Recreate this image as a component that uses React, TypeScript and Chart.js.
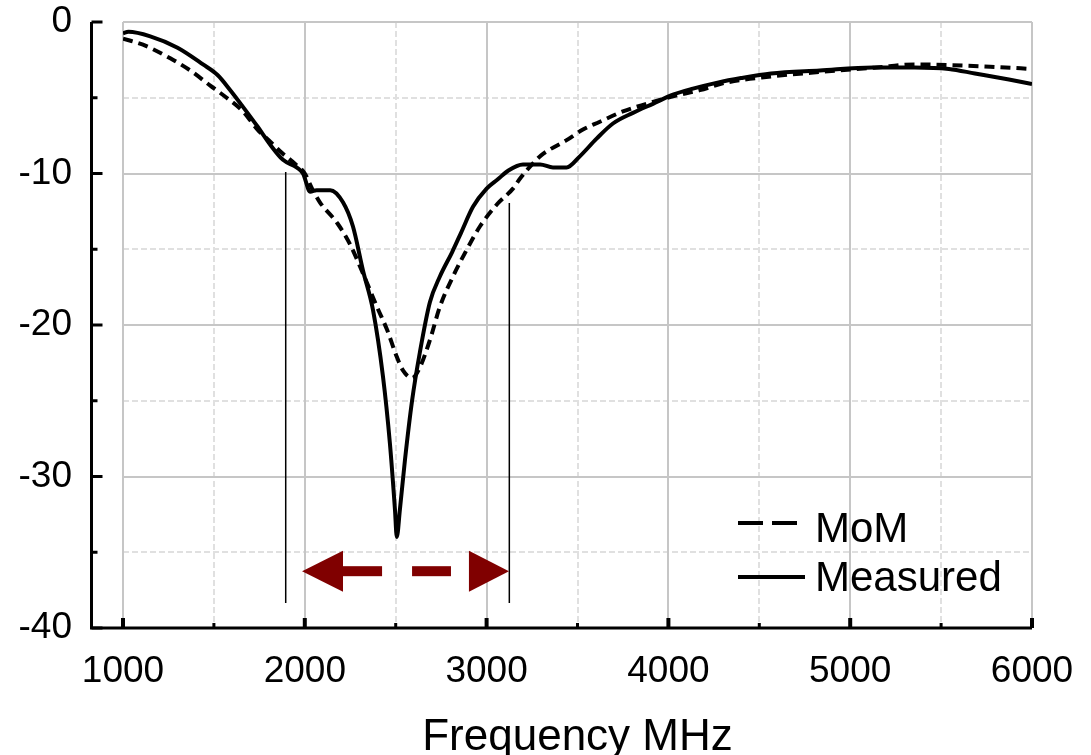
import { useEffect, useRef } from "react";
import { Chart, registerables } from "chart.js";

Chart.register(...registerables);

// ---- data ----
const FREQ_MEASURED = [
  1000, 1030, 1150, 1300, 1440, 1520, 1590, 1660, 1740, 1810, 1880, 1955, 1990, 2030, 2065, 2140, 2210, 2265,
  2320, 2375, 2430, 2468, 2496, 2506, 2523, 2551, 2590, 2633, 2688, 2743, 2810, 2860, 2925, 3000, 3060, 3120,
  3200, 3295, 3365, 3440, 3510, 3605, 3695, 3805, 3915, 4025, 4135, 4270, 4400, 4564, 4833, 5125, 5355, 5543,
  5686, 5873, 6000,
];
const S11_MEASURED = [
  -0.75, -0.65, -0.95, -1.7, -2.8, -3.5, -4.5, -5.6, -6.9, -8.1, -9.1, -9.6, -10.0, -11.2, -11.1, -11.1, -11.9, -13.5,
  -16.4, -19.0, -23.4, -27.8, -32.2, -34.0, -32.2, -28.9, -25.0, -21.8, -18.5, -16.8, -15.2, -13.9, -12.2, -11.0, -10.4, -9.8,
  -9.4, -9.4, -9.6, -9.6, -8.9, -7.7, -6.7, -6.0, -5.4, -4.8, -4.4, -4.0, -3.7, -3.4, -3.2, -3.0, -3.0, -3.1,
  -3.4, -3.8, -4.1,
];
const FREQ_MOM = [
  1000, 1110, 1260, 1370, 1480, 1570, 1660, 1740, 1810, 1880, 1950, 2000, 2040, 2083, 2180, 2250, 2320, 2397,
  2452, 2506, 2540, 2590, 2633, 2688, 2743, 2815, 2892, 2963, 3060, 3145, 3180, 3250, 3300, 3440, 3530, 3620,
  3750, 3880, 4025, 4173, 4317, 4564, 4833, 5145, 5355, 5560, 5770, 6000,
];
const S11_MOM = [
  -1.1, -1.5, -2.4, -3.2, -4.2, -5.0, -5.9, -7.1, -7.9, -8.7, -9.4, -10.0, -11.0, -11.9, -13.3, -14.7, -16.6, -18.8,
  -20.3, -22.1, -23.0, -23.5, -22.8, -21.0, -18.8, -16.8, -15.0, -13.5, -12.0, -11.0, -10.4, -9.4, -8.8, -7.8, -7.1, -6.6,
  -5.9, -5.4, -4.9, -4.5, -4.0, -3.6, -3.3, -3.0, -2.8, -2.85, -2.95, -3.1,
];
const X_MAJOR_TICKS = [1000, 2000, 3000, 4000, 5000, 6000];
const X_MINOR_TICKS = [1500, 2500, 3500, 4500, 5500];
const Y_MAJOR_TICKS = [0, -10, -20, -30, -40];
const Y_MINOR_TICKS = [-5, -15, -25, -35];
const SERIES_LABELS = ["MoM", "Measured"];
const X_TITLE = "Frequency MHz";

// bandwidth markers (MHz, dB)
const BAND_FREQS = [1895, 3125];
const BAND_TOPS = [-9.9, -11.95];
const BAND_BOTTOM = -38.35;
// bandwidth arrow (MHz / dB)
const ARROW_Y = -36.25;
const ARROW_LEFT_TIP = 1985;
const ARROW_LEFT_BASE = 2210;
const ARROW_SHAFT_END = 2425;
const ARROW_DASH = [2590, 2804];
const ARROW_RIGHT_BASE = 2903;
const ARROW_RIGHT_TIP = 3123;
const ARROW_HEAD_HALF = 1.35;
const ARROW_SHAFT_HALF = 0.33;

const FONT = "'Liberation Sans', Arial, Helvetica, sans-serif";
const ARROW_COLOR = "#800000";

const decorPlugin = {
  id: "decor",
  beforeDatasetsDraw(chart: any) {
    const { ctx, chartArea: a, scales } = chart;
    const x = scales.x;
    const y = scales.y;
    ctx.save();
    // dashed minor grid
    ctx.lineWidth = 2;
    ctx.strokeStyle = "#e0e0e0";
    ctx.setLineDash([6, 3]);
    for (const v of X_MINOR_TICKS) {
      const px = Math.round(x.getPixelForValue(v));
      ctx.beginPath();
      ctx.moveTo(px, a.top);
      ctx.lineTo(px, a.bottom);
      ctx.stroke();
    }
    for (const v of Y_MINOR_TICKS) {
      const py = Math.round(y.getPixelForValue(v));
      ctx.beginPath();
      ctx.moveTo(a.left, py);
      ctx.lineTo(a.right, py);
      ctx.stroke();
    }
    // solid major grid
    ctx.setLineDash([]);
    ctx.strokeStyle = "#c6c6c6";
    for (const v of X_MAJOR_TICKS) {
      const px = Math.round(x.getPixelForValue(v));
      ctx.beginPath();
      ctx.moveTo(px, a.top);
      ctx.lineTo(px, a.bottom);
      ctx.stroke();
    }
    for (const v of Y_MAJOR_TICKS) {
      const py = Math.round(y.getPixelForValue(v));
      ctx.beginPath();
      ctx.moveTo(a.left, py);
      ctx.lineTo(a.right, py);
      ctx.stroke();
    }
    ctx.restore();
  },
  afterDatasetsDraw(chart: any) {
    const { ctx, chartArea: a, scales } = chart;
    const x = scales.x;
    const y = scales.y;
    const axisX = a.left - 31.5;
    const axisY = y.getPixelForValue(-40);
    ctx.save();
    // axis lines
    ctx.strokeStyle = "#000";
    ctx.lineWidth = 3;
    ctx.beginPath();
    ctx.moveTo(axisX, a.top);
    ctx.lineTo(axisX, axisY);
    ctx.lineTo(a.right, axisY);
    ctx.stroke();
    // y ticks (inward)
    for (const v of Y_MAJOR_TICKS) {
      const py = y.getPixelForValue(v);
      ctx.beginPath();
      ctx.moveTo(axisX, py);
      ctx.lineTo(axisX + 11, py);
      ctx.stroke();
    }
    for (const v of Y_MINOR_TICKS) {
      const py = y.getPixelForValue(v);
      ctx.beginPath();
      ctx.moveTo(axisX, py);
      ctx.lineTo(axisX + 6, py);
      ctx.stroke();
    }
    // x ticks (inward)
    ctx.lineWidth = 4;
    for (const v of X_MAJOR_TICKS) {
      const px = x.getPixelForValue(v);
      ctx.beginPath();
      ctx.moveTo(px, axisY);
      ctx.lineTo(px, axisY - 10);
      ctx.stroke();
    }
    ctx.lineWidth = 3;
    for (const v of X_MINOR_TICKS) {
      const px = x.getPixelForValue(v);
      ctx.beginPath();
      ctx.moveTo(px, axisY);
      ctx.lineTo(px, axisY - 5);
      ctx.stroke();
    }
    // bandwidth arrow
    const X = (v: number) => x.getPixelForValue(v);
    const Y = (v: number) => y.getPixelForValue(v);
    ctx.fillStyle = ARROW_COLOR;
    ctx.beginPath();
    ctx.moveTo(X(ARROW_LEFT_TIP), Y(ARROW_Y));
    ctx.lineTo(X(ARROW_LEFT_BASE), Y(ARROW_Y + ARROW_HEAD_HALF));
    ctx.lineTo(X(ARROW_LEFT_BASE), Y(ARROW_Y - ARROW_HEAD_HALF));
    ctx.closePath();
    ctx.fill();
    ctx.beginPath();
    ctx.moveTo(X(ARROW_RIGHT_TIP), Y(ARROW_Y));
    ctx.lineTo(X(ARROW_RIGHT_BASE), Y(ARROW_Y + ARROW_HEAD_HALF));
    ctx.lineTo(X(ARROW_RIGHT_BASE), Y(ARROW_Y - ARROW_HEAD_HALF));
    ctx.closePath();
    ctx.fill();
    const rect = (x0: number, x1: number) => {
      const top = Y(ARROW_Y + ARROW_SHAFT_HALF);
      const bot = Y(ARROW_Y - ARROW_SHAFT_HALF);
      ctx.fillRect(X(x0), top, X(x1) - X(x0), bot - top);
    };
    rect(ARROW_LEFT_BASE - 5, ARROW_SHAFT_END);
    rect(ARROW_DASH[0], ARROW_DASH[1]);

    // legend
    ctx.fillStyle = "#000";
    ctx.strokeStyle = "#000";
    ctx.font = `42px ${FONT}`;
    ctx.textAlign = "left";
    ctx.textBaseline = "alphabetic";
    const ds = chart.data.datasets;
    ctx.lineWidth = 4;
    ctx.beginPath();
    ctx.moveTo(738, 523);
    ctx.lineTo(763, 523);
    ctx.moveTo(772, 523);
    ctx.lineTo(797, 523);
    ctx.stroke();
    ctx.fillText(ds[0].label, 815, 542);
    ctx.beginPath();
    ctx.moveTo(738, 577);
    ctx.lineTo(805, 577);
    ctx.stroke();
    ctx.fillText(ds[1].label, 815, 591);
    ctx.restore();
  },
};

export default function App() {
  const ref = useRef<HTMLCanvasElement | null>(null);
  useEffect(() => {
    if (!ref.current) return;
    const mom = FREQ_MOM.map((f, i) => ({ x: f, y: S11_MOM[i] }));
    const meas = FREQ_MEASURED.map((f, i) => ({ x: f, y: S11_MEASURED[i] }));
    const bandSets = BAND_FREQS.map((f, i) => ({
      label: "band" + i,
      data: [
        { x: f, y: BAND_TOPS[i] },
        { x: f, y: BAND_BOTTOM },
      ],
      borderColor: "#000",
      borderWidth: 1.5,
      pointRadius: 0,
      fill: false,
    }));
    const chart = new Chart(ref.current, {
      type: "line",
      data: {
        datasets: [
          {
            label: SERIES_LABELS[0],
            data: mom,
            borderColor: "#000",
            borderWidth: 4,
            borderDash: [10, 6],
            pointRadius: 0,
            cubicInterpolationMode: "monotone",
            fill: false,
          },
          {
            label: SERIES_LABELS[1],
            data: meas,
            borderColor: "#000",
            borderWidth: 4,
            pointRadius: 0,
            cubicInterpolationMode: "monotone",
            fill: false,
          },
          ...bandSets,
        ] as any,
      },
      options: {
        animation: false,
        responsive: false,
        devicePixelRatio: 1,
        layout: { padding: { left: 0, top: 22, right: 59, bottom: 0 } },
        plugins: { legend: { display: false }, tooltip: { enabled: false } },
        scales: {
          x: {
            type: "linear",
            min: 1000,
            max: 6000,
            afterBuildTicks: (s: any) => {
              s.ticks = X_MAJOR_TICKS.map((v) => ({ value: v }));
            },
            afterFit: (s: any) => {
              s.height = 127;
              s.paddingLeft = 0;
              s.paddingRight = 0;
            },
            grid: { display: false, drawTicks: false },
            border: { display: false },
            ticks: {
              color: "#000",
              font: { family: FONT, size: 37, lineHeight: 1 },
              padding: 25,
              maxRotation: 0,
              callback: (v: any) => String(v),
            },
            title: {
              display: true,
              text: X_TITLE,
              color: "#000",
              font: { family: FONT, size: 44, lineHeight: 0.8 },
              padding: 0,
            },
          },
          y: {
            type: "linear",
            min: -40,
            max: 0,
            afterBuildTicks: (s: any) => {
              s.ticks = Y_MAJOR_TICKS.map((v) => ({ value: v }));
            },
            afterFit: (s: any) => {
              s.width = 123;
              s.paddingTop = 0;
              s.paddingBottom = 0;
            },
            grid: { display: false, drawTicks: false },
            border: { display: false },
            ticks: {
              color: "#000",
              font: { family: FONT, size: 37, lineHeight: 1 },
              padding: 51,
              callback: (v: any) => String(v),
            },
          },
        },
      },
      plugins: [decorPlugin],
    });
    return () => chart.destroy();
  }, []);
  return (
    <div style={{ position: "fixed", left: 0, top: 0, width: 1091, height: 755, background: "#fff" }}>
      <canvas ref={ref} width={1091} height={755} style={{ display: "block" }} />
    </div>
  );
}
